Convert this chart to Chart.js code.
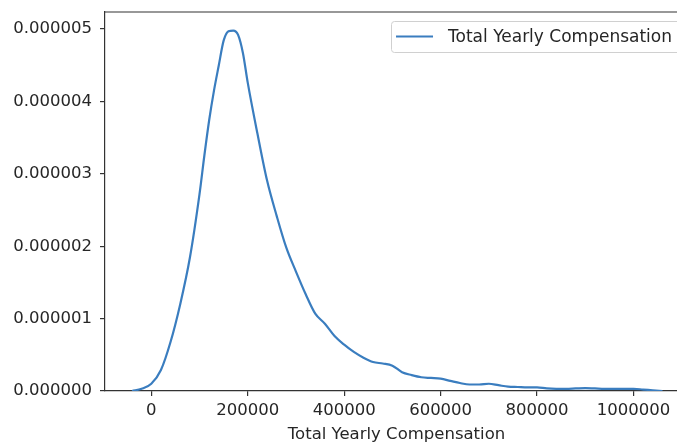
<!DOCTYPE html>
<html>
<head>
<meta charset="utf-8">
<script src="https://cdn.jsdelivr.net/npm/chart.js@4"></script>
<style>
  html, body { margin: 0; padding: 0; background: #fff; overflow: hidden; }
  #wrap { position: relative; width: 720px; height: 446px; }
</style>
</head>
<body>
<div id="wrap"><canvas id="graficoKde"></canvas></div>
<script>
// densidad estimada (kde) de la compensacion anual total
const compensacion = [-40000, -20000, 0, 20000, 40000, 60000, 80000, 100000, 110000, 120000,
    130000, 140000, 150000, 160000, 170000, 180000, 190000, 200000, 220000, 240000,
    260000, 280000, 300000, 320000, 340000, 360000, 380000, 400000, 420000, 440000,
    460000, 480000, 500000, 520000, 540000, 560000, 580000, 600000, 620000, 640000,
    660000, 680000, 700000, 720000, 740000, 760000, 780000, 800000, 820000, 840000,
    860000, 880000, 900000, 920000, 940000, 960000, 980000, 1000000, 1020000, 1040000, 1060000];
const densidad = [0.000, 0.030, 0.100, 0.290, 0.680, 1.200, 1.840, 2.720, 3.250, 3.740,
    4.150, 4.500, 4.840, 4.970, 4.980, 4.920, 4.670, 4.260, 3.560, 2.910,
    2.420, 1.980, 1.650, 1.340, 1.070, 0.930, 0.760, 0.640, 0.540, 0.460,
    0.400, 0.380, 0.350, 0.260, 0.220, 0.190, 0.180, 0.170, 0.140, 0.110,
    0.090, 0.090, 0.100, 0.080, 0.060, 0.055, 0.050, 0.050, 0.035, 0.030,
    0.030, 0.035, 0.040, 0.035, 0.030, 0.030, 0.030, 0.030, 0.020, 0.010, 0.000]
    .map(v => v * 1e-6);
const ticksX = [0, 200000, 400000, 600000, 800000, 1000000];
const ticksY = [0, 1e-6, 2e-6, 3e-6, 4e-6, 5e-6];
const etiquetaSerie = 'Total Yearly Compensation';
const tituloX = 'Total Yearly Compensation';

const familia = '"DejaVu Sans", sans-serif';
const fuenteTicks = { family: familia, size: 16.5 };
const fuenteLeyenda = { family: familia, size: 17 };
const colorTexto = '#262626';
const colorEje = '#333333';
const azul = '#3a7dbf';

// borde superior del area del grafico
const bordeSuperior = {
    id: 'bordeSuperior',
    afterDraw(chart) {
        const { ctx, chartArea } = chart;
        ctx.save();
        ctx.strokeStyle = colorEje;
        ctx.lineWidth = 1.2;
        ctx.beginPath();
        ctx.moveTo(chartArea.left, chartArea.top);
        ctx.lineTo(chartArea.right, chartArea.top);
        ctx.stroke();
        ctx.restore();
    }
};

// leyenda dentro del area, arriba a la derecha
const leyendaInterna = {
    id: 'leyendaInterna',
    afterDraw(chart) {
        const { ctx, chartArea } = chart;
        const ds = chart.data.datasets[0];
        ctx.save();
        ctx.font = fuenteLeyenda.size + 'px ' + fuenteLeyenda.family;
        const anchoTexto = ctx.measureText(ds.label).width;
        const derecha = chartArea.right - 8;
        const arriba = chartArea.top + 9;
        const ancho = 5 + 37 + 15 + anchoTexto + 8;
        const alto = 31;
        const izquierda = derecha - ancho;

        ctx.fillStyle = 'rgba(255,255,255,0.8)';
        ctx.strokeStyle = '#d0d0d0';
        ctx.lineWidth = 1;
        ctx.beginPath();
        ctx.roundRect(izquierda + 0.5, arriba + 0.5, ancho, alto, 3);
        ctx.fill();
        ctx.stroke();

        const yMedio = arriba + alto / 2;
        ctx.strokeStyle = ds.borderColor;
        ctx.lineWidth = ds.borderWidth;
        ctx.beginPath();
        ctx.moveTo(izquierda + 5, yMedio);
        ctx.lineTo(izquierda + 42, yMedio);
        ctx.stroke();

        ctx.fillStyle = colorTexto;
        ctx.textBaseline = 'middle';
        ctx.fillText(ds.label, izquierda + 57, yMedio + 1);
        ctx.restore();
    }
};

const ctx = document.getElementById('graficoKde');

new Chart(ctx, {
    type: 'line',
    data: {
        datasets: [{
            label: etiquetaSerie,
            data: compensacion.map((x, i) => ({ x: x, y: densidad[i] })),
            borderColor: azul,
            borderWidth: 2.2,
            pointRadius: 0,
            fill: false,
            cubicInterpolationMode: 'monotone'
        }]
    },
    options: {
        responsive: true,
        maintainAspectRatio: false,
        animation: false,
        layout: { padding: { top: 12, right: 32, left: 0, bottom: 0 } },
        plugins: {
            legend: { display: false },
            tooltip: { enabled: false }
        },
        scales: {
            x: {
                type: 'linear',
                min: -96000,
                max: 1113000,
                afterBuildTicks: axis => { axis.ticks = ticksX.map(v => ({ value: v })); },
                afterFit: axis => {
                    axis.height = 55;
                    axis.paddingLeft = 0;
                    axis.paddingRight = 0;
                },
                ticks: {
                    callback: v => String(v),
                    font: fuenteTicks,
                    color: colorTexto,
                    padding: 5,
                    maxRotation: 0
                },
                grid: { drawOnChartArea: false, drawTicks: true, tickLength: 5, color: colorEje, lineWidth: 1.2 },
                border: { display: true, color: colorEje, width: 1.2 },
                title: {
                    display: true,
                    text: tituloX,
                    font: fuenteTicks,
                    color: colorTexto,
                    padding: { top: 2, bottom: 1 }
                }
            },
            y: {
                min: 0,
                max: 5.236e-6,
                afterBuildTicks: axis => { axis.ticks = ticksY.map(v => ({ value: v })); },
                afterFit: axis => {
                    axis.width = 105;
                    axis.paddingTop = 0;
                    axis.paddingBottom = 0;
                },
                ticks: {
                    callback: v => v.toFixed(6),
                    font: fuenteTicks,
                    color: colorTexto,
                    padding: 8
                },
                grid: { drawOnChartArea: false, drawTicks: true, tickLength: 5, color: colorEje, lineWidth: 1.2 },
                border: { display: true, color: colorEje, width: 1.2 }
            }
        }
    },
    plugins: [bordeSuperior, leyendaInterna]
});
</script>
</body>
</html>
